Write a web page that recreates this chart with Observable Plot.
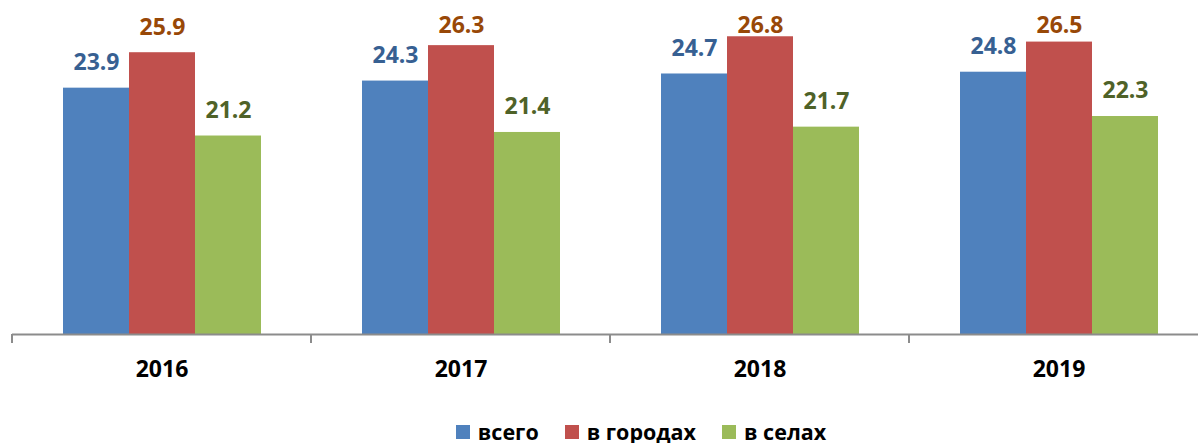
<!DOCTYPE html>
<html><head><meta charset="utf-8">
<script src="https://cdn.jsdelivr.net/npm/d3@7"></script>
<script src="https://cdn.jsdelivr.net/npm/@observablehq/plot@0.6"></script>
<style>
body{margin:0;background:#fff;font-family:"Open Sans",sans-serif;overflow:hidden;}
#chart svg{display:block;}
#legend{display:flex;justify-content:center;gap:26px;padding-top:21px;padding-left:84px;font-weight:700;font-size:21.5px;line-height:22px;height:22px;color:#000;}
#legend .item{display:flex;align-items:center;gap:8px;}
#legend .sw{width:14px;height:14px;display:inline-block;}
</style></head><body><div id="chart"></div><div id="legend"></div>
<script>
const years = ["2016", "2017", "2018", "2019"];
const series = ["всего", "в городах", "в селах"];
const total = [23.9, 24.3, 24.7, 24.8];
const cities = [25.9, 26.3, 26.8, 26.5];
const villages = [21.2, 21.4, 21.7, 22.3];
const barColors = ["#4F81BD", "#C0504D", "#9BBB59"];
const labelColors = ["#376092", "#984807", "#4F6228"];
const yMin = 10, yMax = 28;
const labelLift = 2.0; // label top above bar end, in value units; kept inside the plot area

const seriesValues = [total, cities, villages];
const data = years.flatMap((year, i) => series.map((s, j) => ({year, series: s, value: seriesValues[j][i]})));

const boundaryTicks = (index, scales) => {
  const g = d3.create("svg:g");
  const [x0] = scales.x.range();
  const y0 = scales.y(yMin);
  g.append("line").attr("x1", x0).attr("x2", x0).attr("y1", y0).attr("y2", y0 + 9)
    .attr("stroke", "#8c8c8c").attr("stroke-width", 2);
  return g.node();
};

const chart = Plot.plot({
  width: 1198, height: 400,
  marginLeft: 11, marginRight: -11, marginTop: 15, marginBottom: 66,
  style: {fontFamily: "'Open Sans', sans-serif", background: "#fff", overflow: "hidden"},
  fx: {domain: years, padding: 0, axis: null},
  x: {domain: series, paddingInner: 0, paddingOuter: 0.75, axis: null},
  y: {domain: [yMin, yMax], axis: null},
  color: {domain: series, range: barColors},
  marks: [
    Plot.barY(data, {fx: "year", x: "series", y1: yMin, y2: "value", fill: "series", inset: 0}),
    Plot.ruleY([yMin], {stroke: "#8c8c8c", strokeWidth: 2}),
    boundaryTicks,
    ...series.map((s, j) => Plot.text(data.filter(d => d.series === s), {
      fx: "year", x: "series", y: d => Math.min(d.value + labelLift, yMax), text: d => d.value.toFixed(1),
      fill: labelColors[j], lineAnchor: "top", dy: 1, fontSize: 23, fontWeight: "bold"
    })),
    Plot.text(years, {fx: d => d, text: d => d, frameAnchor: "bottom", lineAnchor: "top", dy: 26,
      fontSize: 23, fontWeight: "bold", fill: "#000"})
  ]
});
document.getElementById("chart").append(chart);

const legend = document.getElementById("legend");
series.forEach((s, i) => {
  const item = document.createElement("span");
  item.className = "item";
  const sw = document.createElement("span");
  sw.className = "sw";
  sw.style.background = barColors[i];
  const t = document.createElement("span");
  t.textContent = s;
  item.append(sw, t);
  legend.append(item);
});
</script>
</body></html>
